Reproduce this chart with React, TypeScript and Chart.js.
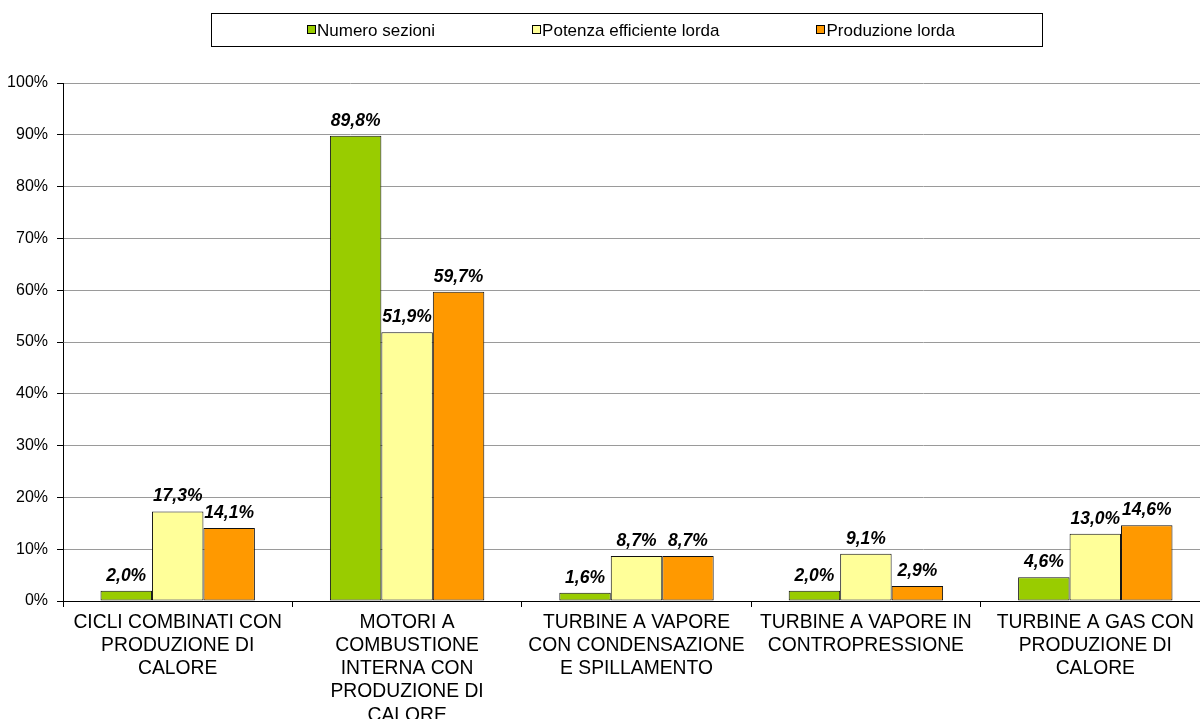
import React, { useEffect, useRef } from "react";
import { Chart, registerables } from "chart.js";

Chart.register(...registerables);

const categories: string[][] = [
  ["CICLI COMBINATI CON", "PRODUZIONE DI", "CALORE"],
  ["MOTORI A", "COMBUSTIONE", "INTERNA CON", "PRODUZIONE DI", "CALORE"],
  ["TURBINE A VAPORE", "CON CONDENSAZIONE", "E SPILLAMENTO"],
  ["TURBINE A VAPORE IN", "CONTROPRESSIONE"],
  ["TURBINE A GAS CON", "PRODUZIONE DI", "CALORE"],
];

const seriesLabels = ["Numero sezioni", "Potenza efficiente lorda", "Produzione lorda"];
const numeroSezioni = [2.0, 89.8, 1.6, 2.0, 4.6];
const potenzaEfficienteLorda = [17.3, 51.9, 8.7, 9.1, 13.0];
const produzioneLorda = [14.1, 59.7, 8.7, 2.9, 14.6];
const seriesColors = ["#99CC00", "#FFFF99", "#FF9900"];

const yMin = 0;
const yMax = 100;
const yStep = 10;

const FONT = "'Liberation Sans', Arial, Helvetica, sans-serif";
const fmt = (v: number) => v.toFixed(1).replace(".", ",") + "%";

const valueLabelsPlugin = {
  id: "valueLabels",
  afterDatasetsDraw(chart: any) {
    const ctx = chart.ctx;
    ctx.save();
    ctx.font = `italic bold 17.5px ${FONT}`;
    ctx.fillStyle = "#000";
    ctx.textAlign = "center";
    ctx.textBaseline = "alphabetic";
    chart.data.datasets.forEach((ds: any, i: number) => {
      const meta = chart.getDatasetMeta(i);
      meta.data.forEach((el: any, j: number) => {
        ctx.fillText(fmt(ds.data[j]), el.x, el.y - 10);
      });
    });
    ctx.restore();
  },
};

const boxedLegendPlugin = {
  id: "boxedLegend",
  afterDraw(chart: any) {
    const ctx = chart.ctx;
    const boxL = 211.5, boxT = 13.5, boxR = 1042.5, boxB = 46.5;
    ctx.save();
    ctx.strokeStyle = "#000";
    ctx.lineWidth = 1;
    ctx.fillStyle = "#fff";
    ctx.fillRect(boxL, boxT, boxR - boxL, boxB - boxT);
    ctx.strokeRect(boxL, boxT, boxR - boxL, boxB - boxT);
    ctx.font = `17px ${FONT}`;
    ctx.textBaseline = "middle";
    ctx.textAlign = "left";
    const marker = 9;
    const markerGap = 1;
    const itemGap = 97;
    const items = chart.data.datasets.map((ds: any) => ({
      label: ds.label,
      color: ds.backgroundColor,
      w: marker + markerGap + ctx.measureText(ds.label).width,
    }));
    const total = items.reduce((s: number, it: any) => s + it.w, 0) + itemGap * (items.length - 1);
    let x = 631 - total / 2;
    const cy = 30;
    items.forEach((it: any) => {
      ctx.fillStyle = it.color;
      ctx.fillRect(Math.round(x) + 0.5, cy - 4.5, marker - 1, marker - 1);
      ctx.strokeStyle = "#000";
      ctx.strokeRect(Math.round(x) + 0.5, cy - 4.5, marker - 1, marker - 1);
      ctx.fillStyle = "#000";
      ctx.fillText(it.label, x + marker + markerGap, cy + 1);
      x += it.w + itemGap;
    });
    ctx.restore();
  },
};

export default function App() {
  const canvasRef = useRef<HTMLCanvasElement | null>(null);

  useEffect(() => {
    const canvas = canvasRef.current;
    if (!canvas) return;
    const seriesData = [numeroSezioni, potenzaEfficienteLorda, produzioneLorda];
    const chart = new Chart(canvas, {
      type: "bar",
      data: {
        labels: categories,
        datasets: seriesLabels.map((label, i) => ({
          label,
          data: seriesData[i],
          backgroundColor: seriesColors[i],
          borderColor: "#111111",
          borderWidth: 1,
          borderSkipped: false,
          categoryPercentage: 0.673,
          barPercentage: 1.0,
        })),
      },
      options: {
        responsive: false,
        animation: false,
        devicePixelRatio: 1,
        layout: { padding: { left: 8, top: 83, right: 0, bottom: 0 } },
        plugins: {
          legend: { display: false },
          tooltip: { enabled: false },
          title: { display: false },
        },
        scales: {
          x: {
            offset: true,
            grid: {
              display: true,
              drawOnChartArea: false,
              drawTicks: true,
              tickLength: 6,
              color: "#000",
              offset: true,
            },
            border: { display: true, color: "#000", width: 1 },
            ticks: {
              color: "#000",
              font: { family: FONT, size: 19.3, lineHeight: 1.2 },
              padding: 4,
              maxRotation: 0,
              minRotation: 0,
              autoSkip: false,
            },
            afterFit(scale: any) {
              scale.height = 118;
            },
          },
          y: {
            min: yMin,
            max: yMax,
            grid: {
              color: "#9a9a9a",
              lineWidth: 1,
              drawTicks: true,
              tickLength: 6,
              tickColor: "#000",
            },
            border: { display: true, color: "#000", width: 1 },
            ticks: {
              stepSize: yStep,
              color: "#000",
              font: { family: FONT, size: 16 },
              padding: 9,
              callback: (v: any) => `${v}%`,
            },
            afterFit(scale: any) {
              scale.width = 55;
            },
          },
        },
      },
      plugins: [valueLabelsPlugin, boxedLegendPlugin],
    });
    return () => chart.destroy();
  }, []);

  return (
    <div
      style={{
        position: "absolute",
        left: 0,
        top: 0,
        width: 1200,
        height: 719,
        overflow: "hidden",
        background: "#fff",
      }}
    >
      <canvas ref={canvasRef} width={1210} height={719} />
    </div>
  );
}
